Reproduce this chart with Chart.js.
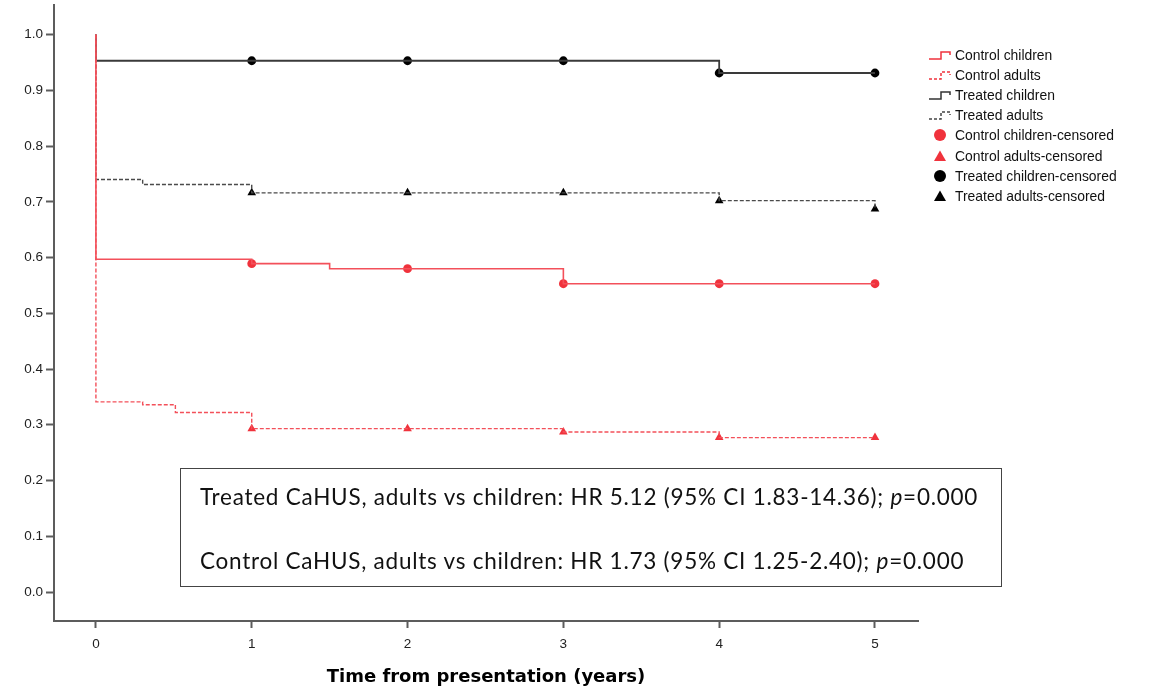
<!DOCTYPE html>
<html>
<head>
<meta charset="utf-8">
<script src="https://cdn.jsdelivr.net/npm/chart.js@4.4.1/dist/chart.umd.min.js"></script>
<style>
    body { margin: 0; background: #fff; }
    #wrap { position: relative; width: 1175px; height: 693px; }
    #legend { position: absolute; left: 928px; top: 45px; font: 13.9px "Liberation Sans", Arial, sans-serif; color: #111; }
    #legend div { height: 20.1px; display: flex; align-items: center; }
    #legend svg { width: 26px; height: 14px; margin-right: 1px; }
    #note { position: absolute; left: 180px; top: 468px; width: 822px; height: 119px; border: 1px solid #444;
            font: 22.5px Lato, "Noto Sans", sans-serif; letter-spacing: 0.75px; color: #111; box-sizing: border-box; }
    #note p { position: absolute; left: 19px; margin: 0; white-space: nowrap; }
</style>
</head>
<body>
<div id="wrap">
    <canvas id="km" width="1175" height="693"></canvas>
    <div id="legend"></div>
    <div id="note">
        <p style="top:14px">Treated CaHUS, adults vs children: HR 5.12 (95% CI 1.83-14.36); <i>p</i>=0.000</p>
        <p style="top:78px">Control CaHUS, adults vs children: HR 1.73 (95% CI 1.25-2.40); <i>p</i>=0.000</p>
    </div>
</div>
<script>
// survival steps (time in years, cumulative survival)
const controlChildrenT = [0, 0, 1, 1.5, 3, 5];
const controlChildrenS = [1, 0.597, 0.589, 0.580, 0.553, 0.553];
const controlAdultsT = [0, 0, 0.3, 0.51, 1, 3, 4, 5];
const controlAdultsS = [1, 0.341, 0.336, 0.322, 0.293, 0.287, 0.277, 0.277];
const treatedChildrenT = [0, 0, 4, 5];
const treatedChildrenS = [1, 0.953, 0.931, 0.931];
const treatedAdultsT = [0, 0, 0.3, 1, 4, 5];
const treatedAdultsS = [1, 0.740, 0.731, 0.716, 0.702, 0.687];

// censored marks
const censorT = [1, 2, 3, 4, 5];
const controlChildrenCens = [0.589, 0.580, 0.553, 0.553, 0.553];
const controlAdultsCens = [0.293, 0.293, 0.287, 0.277, 0.277];
const treatedChildrenCens = [0.953, 0.953, 0.953, 0.931, 0.931];
const treatedAdultsCens = [0.716, 0.716, 0.716, 0.702, 0.687];

const xTicks = [0, 1, 2, 3, 4, 5];
const yTicks = [0, 0.1, 0.2, 0.3, 0.4, 0.5, 0.6, 0.7, 0.8, 0.9, 1.0];

const RED = '#f0323c';

function pts(t, s) {
    return t.map((x, i) => ({ x: x, y: s[i] }));
}

function stepLine(label, t, s, color, dash, width) {
    return {
        type: 'line', label: label, data: pts(t, s), stepped: true,
        borderColor: color, borderWidth: width, borderDash: dash,
        pointRadius: 0, fill: false, clip: false
    };
}

function censored(label, s, color, style) {
    return {
        type: 'scatter', label: label, data: pts(censorT, s), showLine: false,
        pointStyle: style, pointRadius: style === 'circle' ? 4.4 : 5,
        backgroundColor: color, borderColor: color, borderWidth: 0, clip: false
    };
}

const datasets = [
    stepLine('Control adults', controlAdultsT, controlAdultsS, '#f3505a', [4, 2], 1.4),
    stepLine('Control children', controlChildrenT, controlChildrenS, '#f3505a', [], 1.6),
    stepLine('Treated adults', treatedAdultsT, treatedAdultsS, '#4a4a4a', [4, 2], 1.4),
    stepLine('Treated children', treatedChildrenT, treatedChildrenS, '#3a3a3a', [], 1.8),
    censored('Control children-censored', controlChildrenCens, RED, 'circle'),
    censored('Control adults-censored', controlAdultsCens, RED, 'triangle'),
    censored('Treated children-censored', treatedChildrenCens, '#000', 'circle'),
    censored('Treated adults-censored', treatedAdultsCens, '#000', 'triangle')
];

const axisColor = '#5c5c5c';
const tickFont = { family: '"Liberation Sans", Arial, sans-serif', size: 13.5 };

new Chart(document.getElementById('km'), {
    data: { datasets: datasets },
    options: {
        responsive: false,
        animation: false,
        layout: { padding: { left: 0, right: 257, top: 5, bottom: 0 } },
        plugins: { legend: { display: false }, tooltip: { enabled: false } },
        scales: {
            x: {
                type: 'linear', min: -0.269, max: 5.276,
                afterBuildTicks: s => { s.ticks = xTicks.map(v => ({ value: v })); },
                afterFit: s => { s.height = 72; s.paddingLeft = 0; s.paddingRight = 0; },
                border: { color: axisColor, width: 2 },
                grid: { drawOnChartArea: false, drawTicks: true, tickLength: 7, tickWidth: 2, tickColor: axisColor },
                ticks: { font: tickFont, color: '#222', padding: 8, maxRotation: 0 },
                title: {
                    display: true, text: 'Time from presentation (years)', color: '#000',
                    font: { family: '"DejaVu Sans", Verdana, sans-serif', size: 18, weight: 'bold' },
                    padding: { top: 0, bottom: 5 }
                }
            },
            y: {
                type: 'linear', min: -0.052, max: 1.053,
                afterBuildTicks: s => { s.ticks = yTicks.map(v => ({ value: v })); },
                afterFit: s => { s.width = 54; s.paddingTop = 0; s.paddingBottom = 0; },
                border: { color: axisColor, width: 2 },
                grid: { drawOnChartArea: false, drawTicks: true, tickLength: 8, tickWidth: 2, tickColor: axisColor },
                ticks: { font: tickFont, color: '#222', padding: 3, callback: v => v.toFixed(1) }
            }
        }
    }
});

// legend built in html, same order as the reference
const legendItems = [
    ['Control children', 'line', RED, false],
    ['Control adults', 'line', RED, true],
    ['Treated children', 'line', '#333', false],
    ['Treated adults', 'line', '#444', true],
    ['Control children-censored', 'circle', RED],
    ['Control adults-censored', 'triangle', RED],
    ['Treated children-censored', 'circle', '#000'],
    ['Treated adults-censored', 'triangle', '#000']
];
const legend = document.getElementById('legend');
legendItems.forEach(item => {
    let icon;
    if (item[1] === 'line') {
        const dash = item[3] ? 'stroke-dasharray="3,2"' : '';
        icon = `<path d="M1 11 H13 V4 H22 V7" fill="none" stroke="${item[2]}" stroke-width="1.5" ${dash}/>`;
    } else if (item[1] === 'circle') {
        icon = `<circle cx="12" cy="7" r="6" fill="${item[2]}"/>`;
    } else {
        icon = `<path d="M12 1.5 L18 12 L6 12 Z" fill="${item[2]}"/>`;
    }
    const row = document.createElement('div');
    row.innerHTML = `<svg viewBox="0 0 26 14">${icon}</svg><span>${item[0]}</span>`;
    legend.appendChild(row);
});
</script>
</body>
</html>
